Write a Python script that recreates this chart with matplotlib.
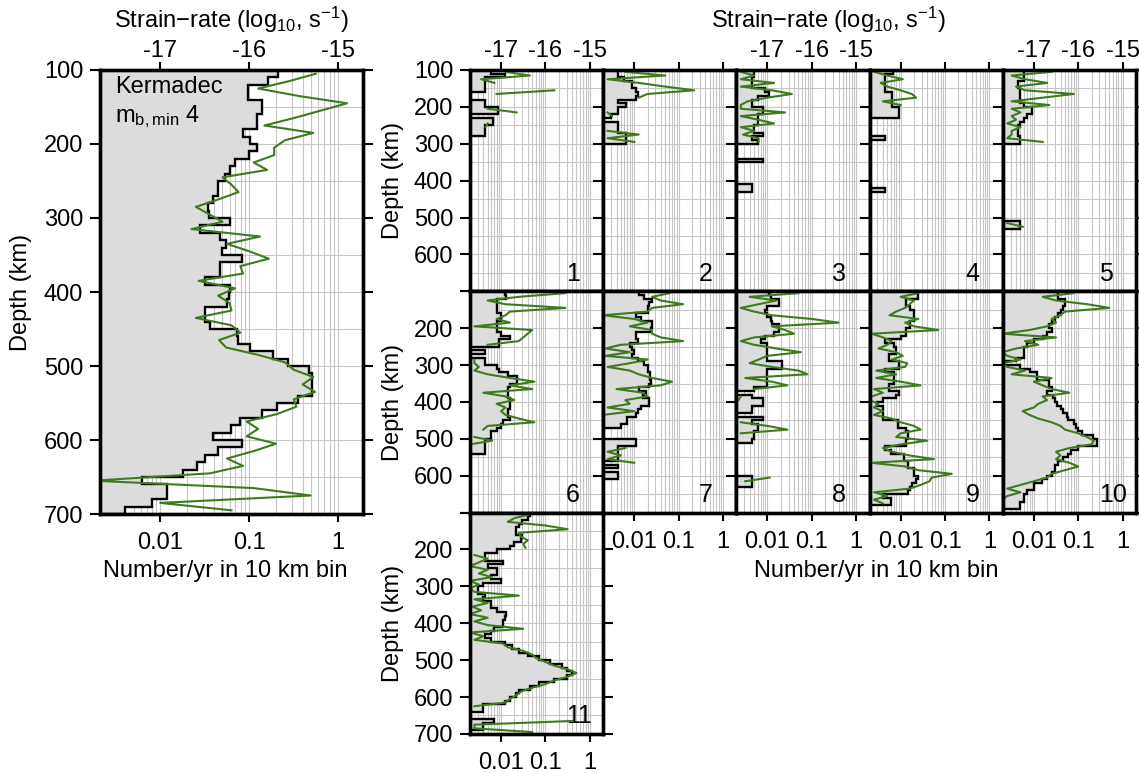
import numpy as np
import matplotlib
matplotlib.use("Agg")
import matplotlib.pyplot as plt
from matplotlib.ticker import MultipleLocator, NullFormatter

plt.rcParams['font.family'] = ['Liberation Sans', 'DejaVu Sans']
plt.rcParams['mathtext.default'] = 'regular'

nan = np.nan

# 10 km depth bins, 100-700 km
depth_edges = np.arange(100, 701, 10)
depth_mid = depth_edges[:-1] + 5

# --- Kermadec, all events (number/yr per bin, log10 strain-rate per bin) ---
rate_all = [
    0.21, 0.163, 0.098, 0.098, 0.14, 0.14, 0.123, 0.123, 0.086, 0.103,
    0.123, 0.10, 0.070, 0.061, 0.054, 0.045, 0.045, 0.039, 0.034, 0.035,
    0.061, 0.028, 0.047, 0.055, 0.049, 0.083, 0.047, 0.047, 0.032, 0.061,
    0.059, 0.056, 0.032, 0.032, 0.036, 0.073, 0.075, 0.103, 0.186, 0.275,
    0.47, 0.51, 0.51, 0.51, 0.35, 0.206, 0.14, 0.079, 0.063, 0.039,
    0.083, 0.045, 0.032, 0.026, 0.018, 0.0063, 0.012, 0.012, 0.0081, 0.0040,
]
strain_all = [
    -15.25, -15.55, -15.9, -15.45, -14.9, -15.2, -15.5, -15.83, -15.28, -15.6,
    -15.72, -15.72, -15.95, -15.8, -16.3, -16.2, -16.12, -16.35, -16.6, -16.45,
    -16.3, -16.65, -15.88, -16.25, -16.0, -15.78, -16.1, -16.07, -16.57, -16.16,
    -16.35, -16.22, -16.2, -16.6, -16.2, -16.1, -16.34, -16.26, -15.9, -15.6,
    -15.5, -15.28, -15.4, -15.26, -15.5, -15.47, -15.69, -16.03, -15.9, -16.03,
    -15.7, -15.95, -16.25, -16.07, -16.44, -17.75, -15.95, -15.31, -17.0, -16.2,
]

# --- sub-regions 1-11 ---
rate_1 = [
    0.006, 0.012, 0.0044, 0.0044, 0.0044, 0.0044, 0, 0, 0.0044, 0.0044,
    0.0085, 0.0085, 0, 0.0065, 0.0065, 0.0044, 0.0044, 0.0044, 0, 0,
] + [0] * 40
strain_1 = [
    -16.9, -16.35, -17.45, -17.15, nan, -15.8, -17.1, nan, nan, nan,
    -17.3, -16.65, nan, nan, -17.3, -17.35, nan, nan, nan, nan,
] + [nan] * 40

rate_2 = [
    0.0044, 0.0044, 0.006, 0.009, 0.009, 0.011, 0.012, 0.011, 0.0044, 0.0065,
    0.0044, 0.0044, 0.003, 0, 0.0044, 0.0044, 0.0044, 0.0065, 0.0065, 0.0065,
] + [0] * 40
strain_2 = [
    -17.2, -16.3, -17.6, -16.9, -16.3, -15.65, -16.7, -16.9, nan, nan,
    nan, -17.6, -17.5, nan, nan, nan, -17.6, -16.9, -17.6, -17.0,
] + [nan] * 40

rate_3 = [
    0.005, 0.005, 0.0044, 0.0044, 0.0044, 0.009, 0.011, 0.006, 0.0044, 0.0044,
    0.008, 0.008, 0.006, 0.006, 0.006, 0.005, 0.005, 0.008, 0.0044, 0.006,
    0, 0, 0, 0, 0.008, 0, 0, 0, 0, 0,
    0, 0.0045, 0.0045, 0, 0, 0, 0, 0, 0, 0,
] + [0] * 20
strain_3 = [
    -17.6, -17.3, -17.6, -16.85, -17.6, -16.9, -16.45, -17.0, -17.45, -17.6,
    -17.6, -16.6, -17.6, -17.2, -16.85, -17.6, -17.3, -17.55, -17.2, -17.2,
] + [nan] * 40

rate_4 = [
    0.0067, 0.0044, 0.0044, 0.0044, 0.0044, 0.0044, 0.0065, 0.0065, 0.0065, 0.0065,
    0.009, 0.009, 0.009, 0, 0, 0, 0, 0, 0.0044, 0,
    0, 0, 0, 0, 0, 0, 0, 0, 0, 0,
    0, 0, 0.0044, 0, 0, 0, 0, 0, 0, 0,
] + [0] * 20
strain_4 = [
    -17.6, -17.3, -16.95, -17.45, -17.3, -17.0, -16.75, -16.65, -17.4, -17.0,
] + [nan] * 50

rate_5 = [
    0.006, 0.006, 0.006, 0.0044, 0.0044, 0.005, 0.005, 0.005, 0.005, 0.006,
    0.009, 0.009, 0.007, 0.006, 0.005, 0.0044, 0.0044, 0.0044, 0.005, 0.005,
    0, 0, 0, 0, 0, 0, 0, 0, 0, 0,
    0, 0, 0, 0, 0, 0, 0, 0, 0, 0,
    0, 0.005, 0.005, 0, 0, 0, 0, 0, 0, 0,
] + [0] * 10
strain_5 = [
    -16.6, -17.5, -17.2, -16.7, -17.4, -17.2, -16.1, -16.8, -17.5, -16.65,
    -17.5, -17.3, -17.5, -17.4, -17.6, -17.3, -17.5, -17.5, -17.6, -16.8,
    nan, nan, nan, nan, nan, nan, nan, nan, nan, nan,
    nan, nan, nan, nan, nan, nan, nan, nan, nan, nan,
    nan, -17.6, -17.25, nan, nan, nan, nan, nan, nan, nan,
] + [nan] * 10

rate_6 = [
    0.012, 0.013, 0.008, 0.008, 0.008, 0.008, 0.01, 0.01, 0.008, 0.008,
    0.008, 0.01, 0.016, 0.009, 0.009, 0, 0.0044, 0, 0.0044, 0.0044,
    0.008, 0.009, 0.014, 0.023, 0.023, 0.016, 0.014, 0.014, 0.014, 0.016,
    0.016, 0.016, 0.014, 0.014, 0.016, 0.011, 0.01, 0.008, 0.006, 0.006,
    0.0044, 0.0044, 0.0044, 0.0044, 0, 0, 0, 0, 0, 0,
] + [0] * 10
strain_6 = [
    -15.55, -16.6, -17.3, -16.9, -15.55, -16.8, -16.9, -17.1, -16.8, -17.6,
    -16.3, -16.4, -16.5, -16.6, -17.3, nan, nan, nan, -17.6, -17.6,
    -17.5, -17.6, -17.3, -16.8, -16.25, -16.8, -16.3, -17.4, -16.9, -16.7,
    -17.1, -16.9, -17.0, -16.9, -16.6, -16.25, -17.3, -17.4, nan, -17.6,
    -17.2, -17.7, nan, nan, nan, nan, nan, nan, nan, nan,
] + [nan] * 10

rate_7 = [
    0.013, 0.017, 0.025, 0.022, 0.02, 0.02, 0.011, 0.014, 0.025, 0.025,
    0.024, 0.011, 0.011, 0.012, 0.008, 0.009, 0.01, 0.009, 0.012, 0.017,
    0.02, 0.02, 0.023, 0.023, 0.024, 0.022, 0.013, 0.018, 0.016, 0.022,
    0.021, 0.014, 0.012, 0.011, 0.007, 0.007, 0.005, 0, 0, 0,
    0.011, 0.011, 0.0044, 0.0044, 0.0044, 0.0044, 0, 0.0044, 0, 0.0044,
    0.0044, 0, 0, 0, 0, 0, 0, 0, 0, 0,
]
strain_7 = [
    -16.2, -16.6, -16.4, -15.9, -16.6, -16.7, -17.7, -17.0, -16.7, -17.1,
    -16.6, -16.6, -16.4, -15.9, -17.3, -17.65, -17.1, -17.65, -16.7, -17.1,
    -17.6, -17.1, -16.9, -16.6, -16.15, -16.4, -17.4, -16.8, -16.7, -17.2,
    -17.1, -17.6, -17.0, -17.7, nan, nan, nan, nan, nan, nan,
    nan, nan, -17.2, -17.6, -17.3, -17.6, -17.0, nan, nan, nan,
] + [nan] * 10

rate_8 = [
    0.011, 0.012, 0.018, 0.018, 0.01, 0.009, 0.01, 0.012, 0.013, 0.018,
    0.018, 0.014, 0.009, 0.007, 0.01, 0.01, 0.01, 0.01, 0.01, 0.021,
    0.021, 0.01, 0.01, 0.01, 0.01, 0.01, 0.005, 0, 0.0044, 0.008,
    0.008, 0.0044, 0.0044, 0, 0.008, 0.0044, 0.006, 0.006, 0.005, 0.005,
    0.0044, 0, 0, 0, 0, 0, 0, 0, 0, 0,
    0.0044, 0.0044, 0.0044, 0, 0, 0, 0, 0, 0, 0,
]
strain_8 = [
    -16.3, -17.4, -16.8, -17.2, -17.6, -17.3, -16.9, -16.0, -15.4, -16.9,
    -16.6, -16.4, -17.3, -17.6, -17.3, -16.8, -16.25, -17.0, -17.2, -17.4,
    -16.9, -16.3, -16.1, -17.5, -16.9, -16.55, -17.3, nan, -17.6, -17.65,
    nan, nan, nan, nan, nan, -17.6, -17.0, -16.55, -17.6, nan,
    nan, nan, nan, nan, nan, nan, nan, nan, nan, nan,
    -16.95, -17.5, nan, nan, nan, nan, nan, nan, nan, nan,
]

rate_9 = [
    0.025, 0.025, 0.013, 0.013, 0.016, 0.02, 0.02, 0.02, 0.016, 0.016,
    0.013, 0.013, 0.01, 0.0045, 0.007, 0.008, 0.008, 0.0055, 0.0055, 0.009,
    0.009, 0.0045, 0.007, 0.007, 0.007, 0.0055, 0.0055, 0.009, 0.008, 0.004,
    0.003, 0.004, 0.004, 0.004, 0.004, 0.0085, 0.0085, 0.013, 0.015, 0.015,
    0.013, 0.013, 0.0045, 0.006, 0.012, 0.012, 0.015, 0.015, 0.02, 0.02,
    0.024, 0.022, 0.018, 0.016, 0.015, 0.004, 0.006, 0.006, 0, 0,
]
strain_9 = [
    -16.6, -17.0, -16.7, -16.8, -16.9, -17.1, -17.25, -16.6, -16.9, -16.7,
    -16.15, -17.65, -17.4, -17.2, -17.3, -17.5, -17.1, -16.95, -17.2, -16.85,
    -16.9, -17.55, -17.1, -17.55, -17.0, -16.55, -17.6, -17.4, -17.65, -17.7,
    -17.5, -17.6, -17.4, -17.6, -17.2, -17.0, -16.7, -16.55, -17.0, -17.1,
    -16.4, -17.0, -17.4, -17.2, -16.8, -16.25, -17.65, -16.9, -16.6, -15.85,
    -16.3, -16.35, -16.55, -16.8, -17.6, -17.3, -17.6, -17.4, nan, nan,
]

rate_10 = [
    0.035, 0.035, 0.05, 0.05, 0.045, 0.04, 0.035, 0.03, 0.025, 0.022,
    0.025, 0.02, 0.016, 0.01, 0.007, 0.006, 0.006, 0.006, 0.004, 0,
    0.005, 0.008, 0.012, 0.012, 0.022, 0.022, 0.025, 0.02, 0.027, 0.03,
    0.033, 0.04, 0.045, 0.055, 0.06, 0.08, 0.09, 0.1, 0.12, 0.21,
    0.26, 0.26, 0.1, 0.07, 0.06, 0.045, 0.035, 0.03, 0.03, 0.025,
    0.02, 0.015, 0.01, 0.01, 0.007, 0.006, 0.006, 0.005, 0.005, 0,
]
strain_10 = [
    -16.1, -16.8, -16.5, -15.8, -15.3, -16.3, -16.4, -16.6, -16.5, -16.7,
    -17.1, -17.7, -16.5, -17.2, -16.9, -17.4, -17.7, -17.6, -17.3, -17.7,
    -17.6, -17.2, -17.5, -16.6, -17.0, -16.8, -16.6, -16.2, -16.8, -16.7,
    -16.9, -17.0, -17.25, -17.1, -16.9, -16.6, -16.4, -16.3, -16.0, -15.8,
    -15.65, -15.7, -16.2, -16.5, -16.4, -16.5, -16.2, -16.0, -16.3, -16.6,
    -16.7, -17.0, -17.3, -17.6, -17.3, -17.6, -17.7, nan, nan, nan,
]

rate_11 = [
    0.045, 0.04, 0.03, 0.025, 0.022, 0.022, 0.03, 0.028, 0.02, 0.016,
    0.008, 0.0044, 0.0044, 0.011, 0.005, 0.008, 0.008, 0.006, 0.01, 0.004,
    0.003, 0.003, 0.0044, 0.004, 0.006, 0.006, 0.008, 0.013, 0.012, 0.011,
    0.011, 0.007, 0.006, 0.0044, 0.006, 0.012, 0.018, 0.025, 0.04, 0.07,
    0.13, 0.24, 0.3, 0.4, 0.3, 0.16, 0.07, 0.045, 0.025, 0.022,
    0.016, 0.012, 0.004, 0.004, 0, 0, 0.007, 0.004, 0.004, 0,
]
strain_11 = [
    -16.35, -16.7, -16.85, -16.0, -15.5, -16.6, -16.55, -16.4, -16.5, -16.45,
    nan, -17.6, -17.3, -17.5, -17.7, -17.3, -17.5, -17.2, -17.7, -17.5,
    -17.7, -17.6, -16.6, -17.6, -17.3, -17.65, -17.45, -17.7, -17.3, -17.6,
    -17.3, -16.5, -17.7, -17.4, -17.6, -16.95, -16.85, -16.5, -16.3, -16.2,
    -16.0, -15.8, -15.5, -15.3, -15.5, -15.8, -16.0, -16.3, -16.55, -16.65,
    -16.8, -16.9, -17.6, nan, nan, nan, -15.4, -17.6, -17.6, -16.3,
]

region_rates = [rate_1, rate_2, rate_3, rate_4, rate_5, rate_6,
                rate_7, rate_8, rate_9, rate_10, rate_11]
region_strains = [strain_1, strain_2, strain_3, strain_4, strain_5, strain_6,
                  strain_7, strain_8, strain_9, strain_10, strain_11]

FILL = '#dcdcdc'
GRID = '#c6c6c6'
GREEN = '#3f7a1e'
BASE = 1e-4          # where empty bins drop to (off the left edge)
FS = 17

W, H = 1139, 773


def box(x0, y0, x1, y1):
    # pixel box (top-left origin) -> figure fraction rect
    return [x0 / W, 1 - y1 / H, (x1 - x0) / W, (y1 - y0) / H]


def draw_profile(ax, rate, strain, xlim):
    rate = np.asarray(rate, dtype=float)
    strain = np.asarray(strain, dtype=float)
    ax.set_xscale('log')
    ax.set_xlim(*xlim)
    ax.set_ylim(700, 100)

    shown = np.where(rate > 0, rate, BASE)
    ax.stairs(shown, depth_edges, orientation='horizontal', baseline=BASE,
              fill=True, facecolor=FILL, edgecolor='none', zorder=1)
    ax.stairs(shown, depth_edges, orientation='horizontal', baseline=BASE,
              fill=False, edgecolor='black', lw=1.7, zorder=2)

    ax.set_axisbelow(True)
    ax.grid(True, which='both', color=GRID, lw=0.8)
    ax.yaxis.set_minor_locator(MultipleLocator(50))
    ax.set_xticks([0.01, 0.1, 1])
    ax.set_xticklabels(['0.01', '0.1', '1'])
    ax.xaxis.set_minor_formatter(NullFormatter())
    ax.set_yticks(np.arange(100, 701, 100))
    ax.tick_params(which='minor', length=0)

    # strain-rate on a linear log10 axis lined up with the log count axis
    top = ax.twiny()
    top.set_xlim(np.log10(xlim[0]) - 15, np.log10(xlim[1]) - 15)
    top.plot(strain, depth_mid, color=GREEN, lw=1.5)
    top.set_xticks([-17, -16, -15])
    top.set_xticklabels(['-17', '-16', '-15'])

    ax.tick_params(axis='y', which='major', direction='out', length=7, width=1.5,
                   left=True, right=True, labelsize=FS, pad=5)
    ax.tick_params(axis='x', which='major', direction='out', length=6, width=1.5,
                   labelsize=FS, pad=7)
    top.tick_params(which='major', direction='out', length=6, width=1.5,
                    labelsize=FS, pad=0)
    top.tick_params(which='minor', length=0)
    for a in (ax, top):
        for sp in a.spines.values():
            sp.set_linewidth(2.4)
    return top


fig = plt.figure(figsize=(W / 100, H / 100), dpi=100)

# big panel: all of Kermadec
ax = fig.add_axes(box(100, 70, 363, 514))
draw_profile(ax, rate_all, strain_all, (0.0021, 1.9))
ax.text(0.057, 0.948, 'Kermadec', transform=ax.transAxes, ha='left', va='baseline', size=FS)
ax.text(0.057, 0.883, 'm$_{b,min}$ 4', transform=ax.transAxes, ha='left', va='baseline', size=FS)
fig.text(21 / W, 1 - 292 / H, 'Depth (km)', rotation=90, ha='center', va='center', size=FS)
fig.text(231 / W, 1 - 28 / H, 'Strain\u2212rate (log$_{10}$, s$^{-1}$)',
         ha='center', va='baseline', size=FS)
fig.text(225 / W, 1 - 577 / H, 'Number/yr in 10 km bin', ha='center', va='baseline', size=FS)

# small panels for the eleven sub-regions
col_w, row_h = 133.2, 221.3
for k in range(11):
    row, col = divmod(k, 5)
    x0 = 470 + col * col_w
    y0 = 70 + row * row_h
    ax = fig.add_axes(box(x0, y0, x0 + col_w, y0 + row_h))
    top = draw_profile(ax, region_rates[k], region_strains[k], (0.002, 2.0))

    labels = [str(d) for d in range(100, 701, 100)]
    if row == 0:
        labels[-1] = ''
    elif row == 1:
        labels[0] = ''
        labels[-1] = ''
    else:
        labels[0] = ''
    ax.set_yticklabels(labels)
    ax.tick_params(axis='y', labelleft=(col == 0))

    if row == 0:
        ax.tick_params(axis='x', bottom=False, labelbottom=False)
        top.tick_params(labeltop=(k % 2 == 0))
    else:
        top.tick_params(top=False, labeltop=False)
        if k == 5:
            ax.tick_params(axis='x', bottom=False, labelbottom=False)

    ax.text(0.72, 0.025, str(k + 1), transform=ax.transAxes, ha='left', va='bottom',
            size=18, zorder=5)

    if col == 0:
        fig.text(393 / W, 1 - (y0 + row_h / 2) / H, 'Depth (km)', rotation=90,
                 ha='center', va='center', size=FS)

fig.text(828 / W, 1 - 28 / H, 'Strain\u2212rate (log$_{10}$, s$^{-1}$)',
         ha='center', va='baseline', size=FS)
fig.text(876 / W, 1 - 577 / H, 'Number/yr in 10 km bin', ha='center', va='baseline', size=FS)

fig.savefig('out.png', dpi=100)
